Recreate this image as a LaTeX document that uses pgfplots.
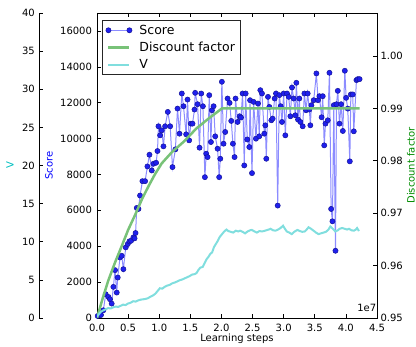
\documentclass[border=0pt]{standalone}
\usepackage{fontspec}
\setmainfont{DejaVu Sans}
\usepackage{pgfplots}
\pgfplotsset{compat=1.18}
\definecolor{scoreline}{rgb}{0.55,0.55,1}
\definecolor{scoremark}{rgb}{0.12,0.12,0.93}
\definecolor{scoreedge}{rgb}{0.08,0.08,0.6}
\definecolor{dfline}{rgb}{0.47,0.76,0.47}
\definecolor{vline}{rgb}{0.5,0.87,0.87}
\definecolor{dfgreen}{rgb}{0,0.55,0}
\definecolor{vcyan}{rgb}{0,0.75,0.75}
\pgfplotsset{
  /pgf/number format/assume math mode=true,
  every axis/.append style={
    font=\fontsize{10}{12}\selectfont,
    scale only axis,
    tick align=inside,
    major tick length=4pt,
    axis line style={black, line width=0.8pt},
    every tick/.style={black, line width=0.6pt},
    scaled y ticks=false,
    scaled x ticks=false,
  },
}
\begin{document}
\begin{tikzpicture}
\useasboundingbox (0,0) rectangle (416pt,347pt);
% main axis: Score
\begin{axis}[
  name=main,
  at={(97pt,29pt)}, anchor=south west,
  width=280pt, height=305pt,
  xmin=0, xmax=4.5, ymin=0, ymax=17000,
  xtick={0,0.5,1,1.5,2,2.5,3,3.5,4,4.5},
  ytick={0,2000,4000,6000,8000,10000,12000,14000,16000},
  xtick pos=both, ytick pos=left,
  xticklabel style={/pgf/number format/.cd, fixed, fixed zerofill, precision=1, /tikz/.cd, anchor=base, yshift=-14pt},
  yticklabel style={/pgf/number format/.cd, 1000 sep={}, /tikz/.cd, xshift=-1.5pt},
  xlabel={Learning steps},
  xlabel style={at={(axis description cs:0.5,0)}, anchor=base, yshift=-24pt},
  ylabel={Score},
  ylabel style={at={(axis description cs:-0.1714,0.5)}, anchor=center, text=blue},
  legend style={at={(axis description cs:0.018,0.977)}, anchor=north west,
    draw=black!85, line width=0.8pt, fill=white,
    font=\fontsize{12.5}{15}\selectfont,
    row sep=2.4pt, column sep=5pt, inner xsep=3pt, inner ysep=2.5pt,
    nodes={inner sep=2pt}},
  legend cell align=left,
  legend image code/.code={%
    \path[draw=none, fill=none] (-3pt,-3pt) rectangle (24pt,3pt);
    \draw[#1, mark repeat=2, mark phase=1] plot coordinates {(0pt,0pt) (10.5pt,0pt) (21pt,0pt)};},
  extra description/.code={\node[anchor=base east, inner sep=0pt] at (axis description cs:0.998,0.02) {1e7};},
]
\addplot[scoreline, line width=1pt, mark=*, mark size=2.6pt,
  mark options={fill=scoremark, draw=scoreedge, line width=0.5pt}] coordinates {
(0.011,112)(0.064,168)(0.102,429)(0.140,1324)(0.183,1175)(0.209,1044)(0.236,802)(0.263,1734)(0.290,2666)(0.317,1417)(0.333,2256)(0.370,3375)(0.397,3468)(0.424,2722)(0.462,3935)(0.494,4121)(0.521,4270)(0.548,4307)(0.585,4494)(0.604,4438)(0.620,4736)(0.639,6134)(0.666,6078)(0.692,6825)(0.730,7627)(0.773,7627)(0.810,8447)(0.843,9100)(0.880,8223)(0.907,8596)(0.950,8652)(0.972,9305)(0.988,10685)(1.014,10181)(1.041,10461)(1.068,9566)(1.095,10685)(1.138,11486)(1.176,10685)(1.213,8410)(1.260,9400)(1.294,11673)(1.326,10274)(1.363,12512)(1.390,11803)(1.433,10237)(1.455,12176)(1.481,9901)(1.508,10833)(1.535,10833)(1.567,11617)(1.578,12549)(1.616,11915)(1.648,9492)(1.675,12512)(1.702,11803)(1.734,7850)(1.755,9156)(1.777,8969)(1.804,12419)(1.831,9808)(1.847,11580)(1.874,11803)(1.900,10125)(1.938,9436)(1.964,7850)(1.981,8876)(2.007,13165)(2.034,9715)(2.061,10368)(2.099,12232)(2.131,11990)(2.158,10983)(2.184,9715)(2.211,8969)(2.227,12232)(2.260,10927)(2.292,11244)(2.314,11170)(2.340,12512)(2.367,8503)(2.389,12512)(2.415,9950)(2.448,9529)(2.460,12139)(2.491,8074)(2.517,12045)(2.555,9995)(2.587,11952)(2.608,10125)(2.625,12698)(2.651,12512)(2.689,10274)(2.705,10740)(2.721,8876)(2.748,12325)(2.770,11766)(2.802,11020)(2.823,11113)(2.855,12232)(2.877,12512)(2.904,6265)(2.930,12419)(2.952,11803)(2.973,10927)(3.000,12512)(3.027,10181)(3.054,12512)(3.081,12325)(3.108,11244)(3.134,12847)(3.161,12232)(3.188,11300)(3.204,13109)(3.231,11057)(3.252,12232)(3.269,10927)(3.306,10685)(3.333,12512)(3.360,11580)(3.386,12512)(3.413,11617)(3.429,10740)(3.446,11860)(3.483,12139)(3.526,13631)(3.553,12139)(3.574,12363)(3.610,11190)(3.628,12363)(3.652,9622)(3.672,10833)(3.709,11020)(3.736,13668)(3.763,6078)(3.784,5389)(3.806,11860)(3.833,3748)(3.849,11915)(3.870,12661)(3.897,10833)(3.924,11915)(3.951,10424)(3.983,13780)(4.004,12270)(4.030,11670)(4.063,8730)(4.080,12460)(4.110,12460)(4.127,10405)(4.170,13258)(4.190,13314)(4.220,13314)
};
\addlegendentry{Score}
\addlegendimage{dfline, line width=2.5pt, mark=none}
\addlegendentry{Discount factor}
\addlegendimage{vline, line width=2.2pt, mark=none}
\addlegendentry{V}
\end{axis}
% discount factor (right axis)
\begin{axis}[
  at={(97pt,29pt)}, anchor=south west,
  width=280pt, height=305pt,
  xmin=0, xmax=4.5, ymin=0.95, ymax=1.0082,
  axis y line*=right, hide x axis,
  ytick={0.95,0.96,0.97,0.98,0.99,1.00},
  yticklabel style={/pgf/number format/.cd, fixed, fixed zerofill, precision=2},
  ylabel={Discount factor},
  ylabel style={at={(axis description cs:1.1214,0.5)}, anchor=center, rotate=0, text=dfgreen},
]
\addplot[dfline, line width=2.5pt] coordinates {
(0,0.9500)(0.09,0.9537)(0.18,0.9571)(0.29,0.9606)(0.40,0.9638)(0.50,0.9668)(0.61,0.9696)(0.72,0.9726)(0.83,0.9752)(0.93,0.9774)(1.04,0.9795)(1.20,0.9816)(1.39,0.9836)(1.60,0.9862)(1.82,0.9883)(2.01,0.9900)(4.22,0.9900)
};
\end{axis}
% V data overlay
\begin{axis}[
  at={(97pt,29pt)}, anchor=south west,
  width=280pt, height=305pt,
  xmin=0, xmax=4.5, ymin=0, ymax=40,
  hide axis,
]
\addplot[vline, line width=2pt] coordinates {
(0.00,0.2)(0.03,0.5)(0.06,0.8)(0.10,1.0)(0.14,1.15)(0.18,1.3)(0.22,1.25)(0.26,1.4)(0.30,1.5)(0.34,1.45)(0.38,1.6)(0.42,1.75)(0.46,1.7)(0.50,1.9)(0.54,2.0)(0.58,2.2)(0.62,2.15)(0.66,2.3)(0.70,2.4)(0.74,2.45)(0.78,2.5)(0.82,2.6)(0.86,2.8)(0.90,2.95)(0.94,3.2)(0.98,3.6)(1.01,3.9)(1.05,3.85)(1.09,4.1)(1.13,4.25)(1.17,4.35)(1.21,4.55)(1.25,4.65)(1.29,4.8)(1.33,4.95)(1.37,5.05)(1.41,5.2)(1.45,5.35)(1.49,5.5)(1.53,5.7)(1.57,5.75)(1.60,5.9)(1.63,6.3)(1.66,6.6)(1.70,6.7)(1.73,7.2)(1.76,7.7)(1.79,8.0)(1.82,8.4)(1.85,8.6)(1.88,9.3)(1.91,9.7)(1.94,10.1)(1.97,10.6)(2.00,10.9)(2.04,11.3)(2.08,11.6)(2.11,11.4)(2.15,11.3)(2.19,11.2)(2.23,11.45)(2.27,11.35)(2.30,11.45)(2.34,11.3)(2.38,11.1)(2.42,11.35)(2.46,11.5)(2.49,11.55)(2.53,11.35)(2.57,11.2)(2.61,11.4)(2.65,11.35)(2.68,11.4)(2.72,11.5)(2.76,11.6)(2.79,11.7)(2.83,11.5)(2.87,11.45)(2.91,11.6)(2.95,11.8)(2.99,12.1)(3.02,11.7)(3.05,11.35)(3.09,11.2)(3.13,11.0)(3.17,11.3)(3.22,11.55)(3.26,11.4)(3.30,11.3)(3.34,11.35)(3.37,11.6)(3.40,11.9)(3.44,11.7)(3.48,11.45)(3.52,11.2)(3.56,11.0)(3.60,11.1)(3.64,11.2)(3.68,11.3)(3.72,11.6)(3.75,12.0)(3.79,11.7)(3.83,11.35)(3.87,11.5)(3.90,11.7)(3.94,11.8)(3.98,11.7)(4.02,11.6)(4.05,11.7)(4.09,11.5)(4.13,11.45)(4.16,11.6)(4.18,11.8)(4.21,11.4)
};
\end{axis}
% V spine (offset left axis)
\begin{axis}[
  at={(39pt,29pt)}, anchor=south west,
  width=1pt, height=305pt,
  xmin=0, xmax=1, ymin=0, ymax=40,
  axis y line*=left, hide x axis,
  ytick={0,5,10,15,20,25,30,35,40},
  yticklabel style={xshift=-0.7pt},
  ylabel={V},
  ylabel style={at={(axis description cs:-29,0.5)}, anchor=center, text=vcyan},
]
\addplot[draw=none] coordinates {(0,0)};
\end{axis}
\end{tikzpicture}
\end{document}
